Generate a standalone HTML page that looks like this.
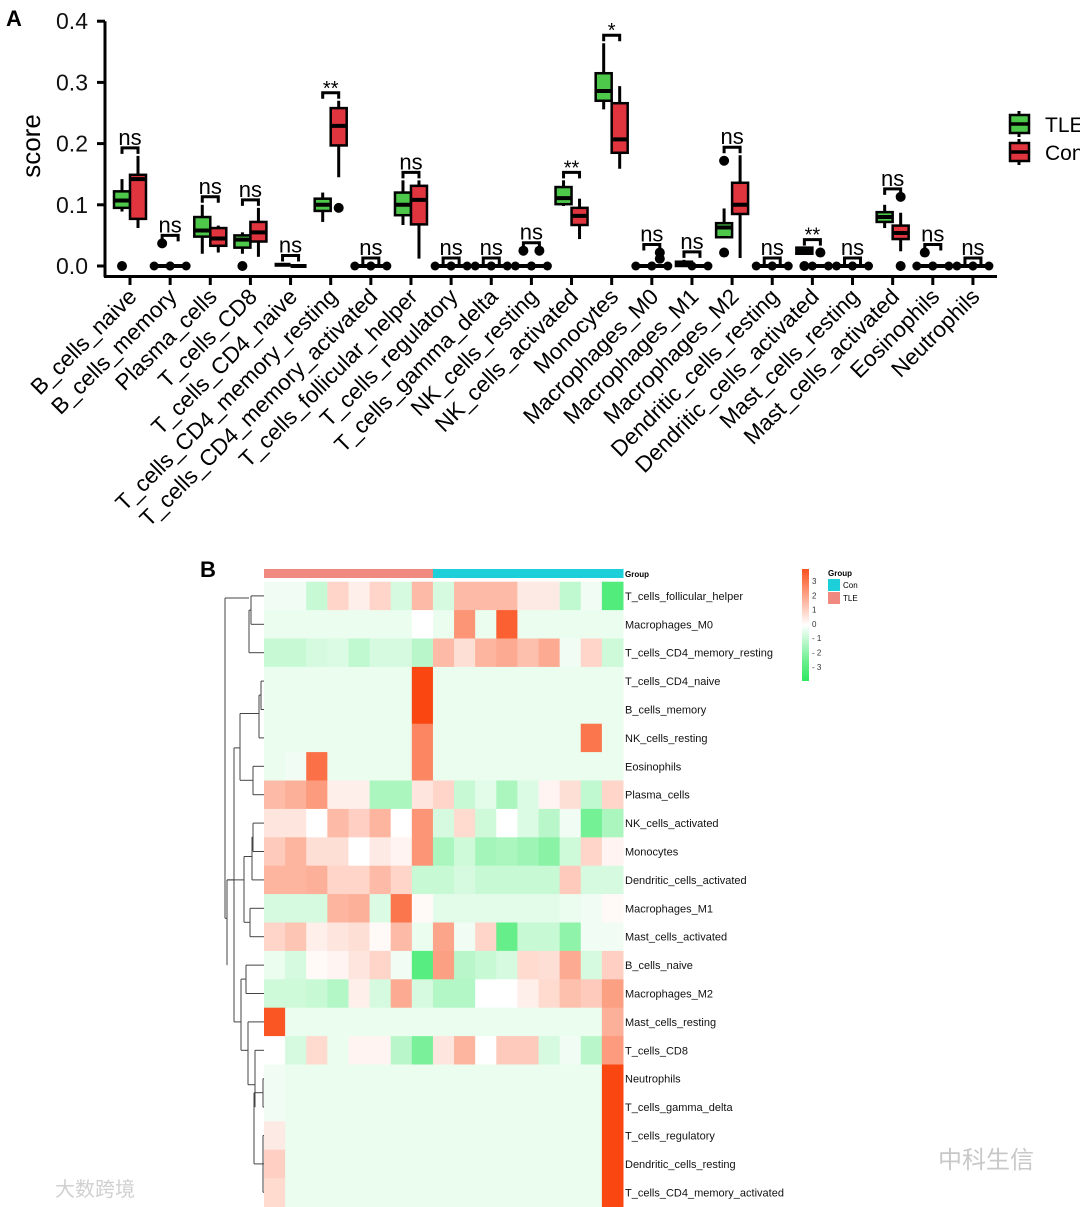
<!DOCTYPE html>
<html><head><meta charset="utf-8">
<style>
html,body{margin:0;padding:0;background:#fff;}
svg{display:block;font-family:"Liberation Sans",Arial,sans-serif;}
</style></head>
<body>
<svg id="root" width="1080" height="1207" viewBox="0 0 1080 1207" xmlns="http://www.w3.org/2000/svg">
<text x="6" y="26" font-size="22" font-weight="bold">A</text>
<text x="200" y="577" font-size="22" font-weight="bold">B</text>
<g id="boxplot"></g>
<g id="heatmap"></g>
<text x="938" y="1168" font-size="24" fill="#c8c8c8" font-family="'Liberation Sans','Noto Sans CJK SC',sans-serif">中科生信</text>
<text x="55" y="1196" font-size="20" fill="#d0d0d0" font-family="'Liberation Sans','Noto Sans CJK SC',sans-serif">大数跨境</text>
</svg>
<script>
const NS='http://www.w3.org/2000/svg';
function mk(parent,tag,attrs){const e=document.createElementNS(NS,tag);for(const k in attrs)e.setAttribute(k,attrs[k]);parent.appendChild(e);return e;}

// ---------- Boxplot data ----------
const categories=["B_cells_naive","B_cells_memory","Plasma_cells","T_cells_CD8","T_cells_CD4_naive","T_cells_CD4_memory_resting","T_cells_CD4_memory_activated","T_cells_follicular_helper","T_cells_regulatory","T_cells_gamma_delta","NK_cells_resting","NK_cells_activated","Monocytes","Macrophages_M0","Macrophages_M1","Macrophages_M2","Dendritic_cells_resting","Dendritic_cells_activated","Mast_cells_resting","Mast_cells_activated","Eosinophils","Neutrophils"];
// [min,q1,median,q3,max]
const tleStats=[[.089,.095,.107,.122,.142],[0,0,0,0,0],[.02,.048,.058,.08,.1],[.02,.03,.043,.05,.055],[0,0,0,.002,.004],[.072,.09,.1,.11,.12],[0,0,0,0,0],[.067,.083,.1,.12,.14],[0,0,0,0,0],[0,0,0,0,0],[0,0,0,0,0],[.098,.101,.111,.129,.14],[.256,.27,.286,.315,.364],[0,0,0,0,0],[0,0,.002,.007,.01],[.047,.047,.063,.07,.094],[0,0,0,0,0],[.02,.02,.025,.03,.03],[0,0,0,0,0],[.062,.072,.08,.088,.1],[0,0,0,0,0],[0,0,0,0,0]];
const conStats=[[.062,.077,.142,.149,.18],[0,0,0,0,0],[.022,.033,.045,.062,.066],[.015,.04,.055,.072,.095],[0,0,0,0,.002],[.145,.197,.229,.258,.27],[0,0,0,0,0],[.012,.068,.108,.131,.14],[0,0,0,0,0],[0,0,0,0,0],[0,0,0,0,0],[.044,.067,.082,.095,.11],[.159,.185,.207,.266,.294],[0,0,0,0,0],[0,0,0,0,0],[.013,.085,.1,.136,.181],[0,0,0,0,0],[0,0,0,0,0],[0,0,0,0,0],[.024,.044,.054,.066,.087],[0,0,0,0,0],[0,0,0,0,0]];
const tleOutliers=[[0],[.037],[],[0],[],[],[],[],[],[],[.025],[],[],[],[],[.172,.022],[],[0],[],[],[.022],[]];
const conOutliers=[[],[],[],[],[],[.095],[],[],[],[],[.025],[],[],[.012,.022],[],[],[],[.022],[],[.113,0],[],[]];
const sigLabels=["ns","ns","ns","ns","ns","**","ns","ns","ns","ns","ns","**","*","ns","ns","ns","ns","**","ns","ns","ns","ns"];
const yTicks=[0,0.1,0.2,0.3,0.4];

const bp=document.getElementById('boxplot');
const X0=130,DX=40.14,Y0=266,PPU=612;
const xS=i=>X0+i*DX;
const yS=v=>Y0-v*PPU;
// axes
let e=mk(bp,'line',{x1:105,y1:yS(0.4),x2:105,y2:277,stroke:'#000','stroke-width':3});


e=mk(bp,'line',{x1:104,y1:276.5,x2:997,y2:276.5,stroke:'#000','stroke-width':3});


yTicks.forEach(t=>{
  const y=yS(t);
  const l=mk(bp,'line',{x1:97,y1:y,x2:105,y2:y,stroke:'#000','stroke-width':3});
  
  
  const tx=mk(bp,'text',{x:88,y:y+8,'font-size':23,'text-anchor':'end',fill:'#111'});
  tx.textContent=t.toFixed(1);
  
  
});
e=mk(bp,'text',{x:0,y:0,'font-size':26,'text-anchor':'middle',transform:'translate(40,146) rotate(-90)'});
e.textContent='score';



function drawBox(cx,s,outs,fill,name){
  const g=mk(bp,'g',{});
  
  
  const w=16;
  mk(g,'line',{x1:cx,y1:yS(s[4]),x2:cx,y2:yS(s[0]),stroke:'#000','stroke-width':3});
  const h=Math.max(yS(s[1])-yS(s[3]),2);
  if(s[3]-s[1]<0.004){
    mk(g,'rect',{x:cx-w/2,y:yS(s[3])-2,width:w,height:h+2,fill:'#000'});
  } else {
    mk(g,'rect',{x:cx-w/2,y:yS(s[3]),width:w,height:h,fill:fill,stroke:'#000','stroke-width':2.5});
    mk(g,'line',{x1:cx-w/2,y1:yS(s[2]),x2:cx+w/2,y2:yS(s[2]),stroke:'#000','stroke-width':4});
  }
  if(s[4]===0){
    mk(g,'circle',{cx:cx-w/2,cy:yS(0),r:4.5,fill:'#000'});
    mk(g,'circle',{cx:cx+w/2,cy:yS(0),r:4.5,fill:'#000'});
  }
  outs.forEach(o=>mk(g,'circle',{cx:cx,cy:yS(o),r:5,fill:'#000'}));
}
categories.forEach((c,i)=>{
  const x=xS(i);
  const t=mk(bp,'line',{x1:x,y1:277,x2:x,y2:285,stroke:'#000','stroke-width':3});
  
  
  const lb=mk(bp,'text',{x:0,y:0,'font-size':22.5,'text-anchor':'end',transform:`translate(${x+8},298) rotate(-45)`});
  lb.textContent=c;
  
  
  drawBox(x-8,tleStats[i],tleOutliers[i],'#4ec84a','box-tle');
  drawBox(x+8,conStats[i],conOutliers[i],'#e0343f','box-con');
  const top=Math.max(tleStats[i][4],conStats[i][4],...tleOutliers[i],...conOutliers[i]);
  const by=yS(top)-8;
  const br=mk(bp,'path',{d:`M${x-8},${by+6} V${by} H${x+8} V${by+6}`,fill:'none',stroke:'#000','stroke-width':3});
  
  
  const st=mk(bp,'text',{x:x,y:by-(sigLabels[i]==='ns'?3:-2),'font-size':sigLabels[i]==='ns'?22:20,'text-anchor':'middle'});
  st.textContent=sigLabels[i];
  
  
});
// legend
[['TLE','#4ec84a',124],['Con','#e0343f',152]].forEach(([n,c,y])=>{
  const g=mk(bp,'g',{});
  
  
  mk(g,'line',{x1:1019,y1:y-13,x2:1019,y2:y+13,stroke:'#000','stroke-width':3});
  mk(g,'rect',{x:1010,y:y-9,width:19,height:18,fill:c,stroke:'#000','stroke-width':2.5});
  mk(g,'line',{x1:1010,y1:y,x2:1029,y2:y,stroke:'#000','stroke-width':3.5});
  const t=mk(g,'text',{x:1045,y:y+8,'font-size':21});t.textContent=n;
});

// ---------- Heatmap data ----------
const rowNames=["T_cells_follicular_helper","Macrophages_M0","T_cells_CD4_memory_resting","T_cells_CD4_naive","B_cells_memory","NK_cells_resting","Eosinophils","Plasma_cells","NK_cells_activated","Monocytes","Dendritic_cells_activated","Macrophages_M1","Mast_cells_activated","B_cells_naive","Macrophages_M2","Mast_cells_resting","T_cells_CD8","Neutrophils","T_cells_gamma_delta","T_cells_regulatory","Dendritic_cells_resting","T_cells_CD4_memory_activated"];
const colGroups=["TLE","TLE","TLE","TLE","TLE","TLE","TLE","TLE","Con","Con","Con","Con","Con","Con","Con","Con","Con"];
const heatValues=[
[-0.2,-0.2,-0.8,0.8,0.3,0.8,-0.6,1.3,-0.6,1.3,1.3,1.3,0.4,0.4,-0.9,-0.2,-2.5],
[-0.3,-0.3,-0.3,-0.3,-0.3,-0.3,-0.3,0.0,-0.3,2.0,-0.3,3.0,-0.3,-0.3,-0.3,-0.3,-0.3],
[-0.8,-0.8,-0.6,-0.5,-0.9,-0.6,-0.6,-1.0,1.3,0.6,1.4,1.6,1.2,1.6,-0.2,0.8,-0.7],
[-0.3,-0.3,-0.3,-0.3,-0.3,-0.3,-0.3,3.5,-0.3,-0.3,-0.3,-0.3,-0.3,-0.3,-0.3,-0.3,-0.3],
[-0.3,-0.3,-0.3,-0.3,-0.3,-0.3,-0.3,3.5,-0.3,-0.3,-0.3,-0.3,-0.3,-0.3,-0.3,-0.3,-0.3],
[-0.3,-0.3,-0.3,-0.3,-0.3,-0.3,-0.3,2.3,-0.3,-0.3,-0.3,-0.3,-0.3,-0.3,-0.3,2.6,-0.3],
[-0.3,-0.2,2.7,-0.3,-0.3,-0.3,-0.3,2.3,-0.3,-0.3,-0.3,-0.3,-0.3,-0.3,-0.3,-0.3,-0.3],
[1.3,1.5,1.9,0.3,0.3,-1.2,-1.2,0.5,0.8,-0.8,-0.4,-1.2,-0.5,0.2,0.6,-0.9,0.8],
[0.5,0.5,0.0,1.3,0.9,1.4,0.0,2.0,-0.6,0.7,-0.7,0.0,-0.5,-1.0,-0.2,-2.0,-1.2],
[1.0,1.4,0.6,0.6,0.0,0.4,0.2,2.0,-1.2,-0.7,-1.3,-1.2,-1.4,-1.7,-0.7,0.8,0.2],
[1.4,1.4,1.5,0.8,0.8,1.3,0.8,-0.8,-0.8,-0.6,-0.8,-0.8,-0.8,-0.8,1.0,-0.6,-0.6],
[-0.6,-0.6,-0.6,1.4,1.5,-0.5,2.6,0.1,-0.4,-0.4,-0.4,-0.4,-0.4,-0.4,-0.3,-0.2,0.1],
[0.8,1.1,0.3,0.5,0.6,0.1,1.3,-0.3,1.7,-0.2,0.8,-2.2,-0.8,-0.8,-1.6,-0.2,-0.2],
[-0.3,-0.6,0.1,0.2,0.5,0.8,-0.2,-2.4,1.8,-1.0,-0.8,-0.6,0.7,0.6,1.6,-0.6,0.9],
[-0.7,-0.7,-0.8,-1.1,0.3,-0.6,1.6,-0.6,-1.1,-1.1,0.0,0.0,0.3,0.7,1.2,1.0,1.8],
[3.2,-0.3,-0.3,-0.3,-0.3,-0.3,-0.3,-0.3,-0.3,-0.3,-0.3,-0.3,-0.3,-0.3,-0.3,-0.3,1.5],
[0.0,-0.6,0.7,-0.3,0.2,0.2,-1.0,-1.9,0.5,1.4,0.0,1.0,1.0,-0.6,-0.2,-1.0,1.9],
[-0.2,-0.3,-0.3,-0.3,-0.3,-0.3,-0.3,-0.3,-0.3,-0.3,-0.3,-0.3,-0.3,-0.3,-0.3,-0.3,3.5],
[-0.2,-0.3,-0.3,-0.3,-0.3,-0.3,-0.3,-0.3,-0.3,-0.3,-0.3,-0.3,-0.3,-0.3,-0.3,-0.3,3.5],
[0.4,-0.3,-0.3,-0.3,-0.3,-0.3,-0.3,-0.3,-0.3,-0.3,-0.3,-0.3,-0.3,-0.3,-0.3,-0.3,3.5],
[0.9,-0.3,-0.3,-0.3,-0.3,-0.3,-0.3,-0.3,-0.3,-0.3,-0.3,-0.3,-0.3,-0.3,-0.3,-0.3,3.5],
[0.7,-0.3,-0.3,-0.3,-0.3,-0.3,-0.3,-0.3,-0.3,-0.3,-0.3,-0.3,-0.3,-0.3,-0.3,-0.3,3.5]];
const scaleTicks=[3,2,1,0,-1,-2,-3];

const hm=document.getElementById('heatmap');
const HX=264,HY=581.7,CW=(623-264)/17,RH=28.4;
function col(v){
  let a,c;
  if(v>=0){a=Math.min(v/3.5,1);c=[250,70,16];}
  else{a=Math.min(-v/3,1);c=[46,232,96];}
  const r=Math.round(255+(c[0]-255)*a),g=Math.round(255+(c[1]-255)*a),b=Math.round(255+(c[2]-255)*a);
  return `rgb(${r},${g},${b})`;
}
colGroups.forEach((gname,j)=>{
  const r=mk(hm,'rect',{x:HX+j*CW,y:569,width:CW+0.5,height:9,fill:gname==='TLE'?'#f08a80':'#1ccfd8'});
  
  
});
e=mk(hm,'text',{x:625,y:577,'font-size':8,'font-weight':'bold'});e.textContent='Group';


heatValues.forEach((row,i)=>{
  row.forEach((v,j)=>{
    const r=mk(hm,'rect',{x:HX+j*CW,y:HY+i*RH,width:CW+0.5,height:RH+0.5,fill:col(v)});
    
    
  });
  const t=mk(hm,'text',{x:625,y:HY+i*RH+RH/2+4,'font-size':11,fill:'#111'});
  t.textContent=rowNames[i];
  
  
});
// dendrogram (approximate structure)
const rc=i=>HY+i*RH+RH/2;
const dg=mk(hm,'g',{stroke:'#444','stroke-width':1,fill:'none'});


const seg=[
 [264,rc(0),251,rc(0)],[264,rc(1),251,rc(1)],[251,rc(0),251,rc(1)],[251,(rc(0)+rc(1))/2,249,(rc(0)+rc(1))/2],
 [264,rc(2),249,rc(2)],[249,(rc(0)+rc(1))/2,249,rc(2)],[249,598,225,598],
 [264,rc(3),261,rc(3)],[264,rc(4),261,rc(4)],[261,rc(3),261,rc(4)],[261,rc(3)+14,259,rc(3)+14],
 [264,rc(5),259,rc(5)],[259,rc(3)+14,259,rc(5)],[259,rc(4)+4,240,rc(4)+4],
 [264,rc(6),253,rc(6)],[264,rc(7),253,rc(7)],[253,rc(6),253,rc(7)],[253,rc(6)+14,240,rc(6)+14],
 [240,rc(4)+4,240,rc(6)+14],[240,rc(5)+10,234,rc(5)+10],
 [264,rc(8),253,rc(8)],[264,rc(9),253,rc(9)],[253,rc(8),253,rc(9)],[253,rc(8)+14,252,rc(8)+14],
 [264,rc(10),252,rc(10)],[252,rc(8)+14,252,rc(10)],[252,rc(9)+5,244,rc(9)+5],
 [264,rc(11),250,rc(11)],[264,rc(12),250,rc(12)],[250,rc(11),250,rc(12)],[250,rc(11)+14,244,rc(11)+14],
 [244,rc(9)+5,244,rc(11)+14],[244,rc(10),227,rc(10)],
 [264,rc(13),246,rc(13)],[264,rc(14),246,rc(14)],[246,rc(13),246,rc(14)],[246,rc(13)+14,241,rc(13)+14],
 [264,rc(15),248,rc(15)],[264,rc(16),255,rc(16)],
 [264,rc(17),263,rc(17)],[264,rc(18),263,rc(18)],[263,rc(17),263,rc(18)],
 [264,rc(19),263,rc(19)],[264,rc(20),263,rc(20)],[264,rc(21),263,rc(21)],[263,rc(19),263,rc(21)],
 [263,rc(17)+14,254,rc(17)+14],[263,rc(20),254,rc(20)],[254,rc(17)+14,254,rc(20)],
 [255,rc(16),255,rc(18)],[255,rc(17)+6,248,rc(17)+6],
 [248,rc(15),248,rc(17)+6],[248,rc(16),241,rc(16)],
 [241,rc(13)+14,241,rc(16)],[241,rc(15),234,rc(15)],
 [234,rc(5)+10,234,rc(15)],[234,rc(10),227,rc(10)],
 [227,rc(10),227,rc(13)],[227,rc(11)+10,225,rc(11)+10],
 [225,598,225,rc(11)+10]
];
seg.forEach(s=>mk(dg,'line',{x1:s[0],y1:s[1],x2:s[2],y2:s[3]}));
// color scale legend
const defs=mk(hm,'defs',{});
const lg=mk(defs,'linearGradient',{id:'cs',x1:0,y1:0,x2:0,y2:1});
scaleTicks.forEach((t,k)=>mk(lg,'stop',{offset:(k/(scaleTicks.length-1)),'stop-color':col(t*1.1)}));
e=mk(hm,'rect',{x:802,y:569,width:7,height:112,fill:'url(#cs)'});


scaleTicks.forEach((t,k)=>{
  const tx=mk(hm,'text',{x:812,y:584+k*14.3,'font-size':8,fill:'#333'});
  tx.textContent=t<0?('- '+(-t)):String(t);
  
  
});
e=mk(hm,'text',{x:828,y:576,'font-size':8,'font-weight':'bold'});e.textContent='Group';


[['Con','#1ccfd8',579],['TLE','#f08a80',592]].forEach(([n,c,y])=>{
  const g=mk(hm,'g',{});
  
  
  mk(g,'rect',{x:828,y:y,width:12,height:12,fill:c});
  const t=mk(g,'text',{x:843,y:y+9,'font-size':8});t.textContent=n;
});
</script>
</body></html>
